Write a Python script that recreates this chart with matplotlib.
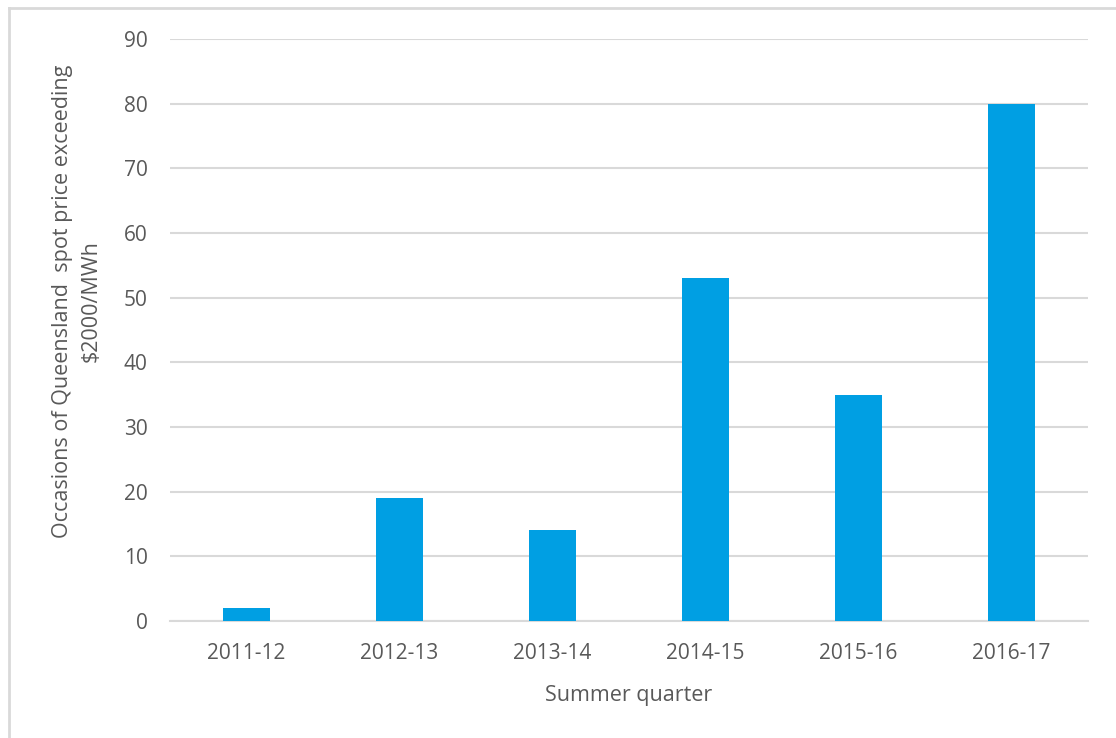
import numpy as np
import matplotlib.pyplot as plt
from matplotlib.lines import Line2D

quarters = ['2011-12', '2012-13', '2013-14', '2014-15', '2015-16', '2016-17']
occasions = [2, 19, 14, 53, 35, 80]

bar_color = '#009FE3'
text_color = '#595959'
grid_color = '#D9D9D9'

plt.rcParams['font.family'] = ['Open Sans', 'DejaVu Sans']

fig = plt.figure(figsize=(11.16, 7.38), dpi=100)
ax = fig.add_axes([170 / 1116, 117 / 738, 918 / 1116, 582 / 738])

x = np.arange(len(quarters))
ax.bar(x, occasions, width=0.31, color=bar_color, zorder=3)

ax.set_xlim(-0.5, len(quarters) - 0.5)
ax.set_ylim(0, 90)
ax.set_yticks(range(0, 91, 10))
ax.set_xticks(x)
ax.set_xticklabels(quarters)

ax.grid(axis='y', color=grid_color, linewidth=1.5, zorder=0)
for side in ['top', 'right', 'left']:
    ax.spines[side].set_visible(False)
ax.spines['bottom'].set_color(grid_color)
ax.spines['bottom'].set_linewidth(1.5)
ax.tick_params(axis='both', length=0, colors=text_color, labelsize=15)
ax.tick_params(axis='y', pad=16)
ax.tick_params(axis='x', pad=16)

ax.set_xlabel('Summer quarter', fontsize=15.5, color=text_color, labelpad=15)
ax.set_ylabel('Occasions of Queensland  spot price exceeding\n$2000/MWh',
              fontsize=15.5, color=text_color, linespacing=1.5)
ax.yaxis.set_label_coords(-0.074, 0.55)

# light frame at left and top edge of the image
fig.add_artist(Line2D([9 / 1116, 9 / 1116], [0, 1 - 8 / 738],
                      transform=fig.transFigure, color='#D9D9D9', linewidth=2))
fig.add_artist(Line2D([9 / 1116, 1], [1 - 8 / 738, 1 - 8 / 738],
                      transform=fig.transFigure, color='#D9D9D9', linewidth=2))

fig.savefig('out.png', dpi=100)
